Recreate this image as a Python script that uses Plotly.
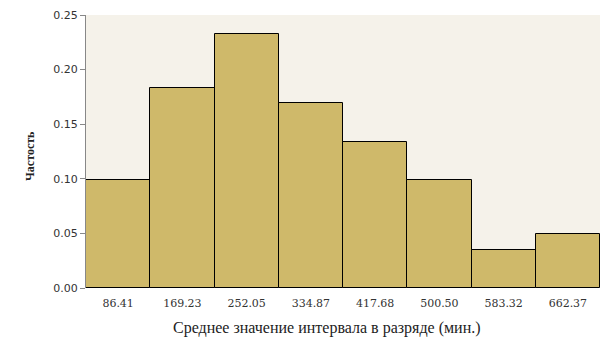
import plotly.graph_objects as go

categories = ["86.41", "169.23", "252.05", "334.87", "417.68", "500.50", "583.32", "662.37"]
frequencies = [14/142, 26/142, 33/142, 24/142, 19/142, 14/142, 5/142, 7/142]
y_ticks = [0.0, 0.05, 0.10, 0.15, 0.20, 0.25]
y_tick_labels = ["0.00", "0.05", "0.10", "0.15", "0.20", "0.25"]
x_title = "Среднее значение интервала в разряде (мин.)"
y_title = "<b>Частость</b>"

fig = go.Figure(go.Bar(
    x=categories,
    y=frequencies,
    marker=dict(color="#cfb96a", line=dict(color="black", width=1)),
))

fig.update_layout(
    width=603, height=349,
    margin=dict(l=78, r=11, t=7, b=69),
    paper_bgcolor="white",
    plot_bgcolor="#f5f2ea",
    bargap=0,
    showlegend=False,
    xaxis=dict(
        type="category", automargin=False,
        showgrid=False, showline=False, zeroline=False,
        ticks="outside", ticklen=5, tickcolor="rgba(0,0,0,0)",
        tickfont=dict(family="DejaVu Serif", size=11, color="#333"),
    ),
    yaxis=dict(
        range=[0, 0.25], automargin=False,
        tickvals=y_ticks, ticktext=y_tick_labels,
        showgrid=False, zeroline=False,
        showline=True, linecolor="#888", linewidth=1,
        ticks="outside", ticklen=5, tickcolor="#888",
        tickfont=dict(family="DejaVu Sans", size=11, color="#333"),
    ),
    annotations=[
        dict(text=x_title, xref="paper", yref="paper", x=0.468, y=-0.1465,
             xanchor="center", yanchor="middle", showarrow=False,
             font=dict(family="Liberation Serif", size=16, color="#222")),
        dict(text=y_title, xref="paper", yref="paper", x=-0.109, y=0.4835,
             xanchor="center", yanchor="middle", showarrow=False, textangle=-90,
             font=dict(family="Liberation Serif", size=12, color="#222")),
    ],
)

fig.write_html("out.html")
